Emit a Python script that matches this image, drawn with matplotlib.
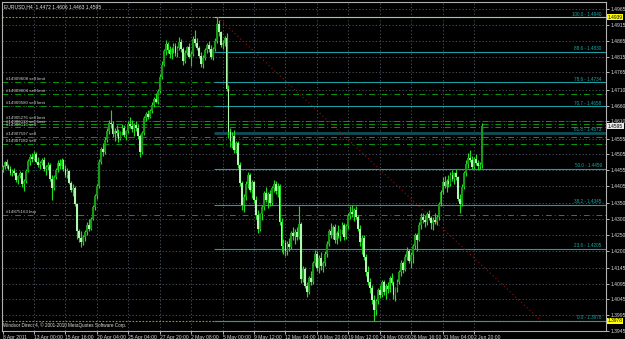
import numpy as np
import matplotlib
matplotlib.use('Agg')
import matplotlib.pyplot as plt
import matplotlib.transforms as mtransforms

plt.rcParams['font.family'] = ['Liberation Sans', 'DejaVu Sans']

# EURUSD H4, prices in pips (4472 -> 1.4472), one entry per bar
opens = [4455, 4466, 4480, 4468, 4460, 4447, 4452, 4445, 4424, 4436, 4446, 4410,
         4420, 4452, 4484, 4498, 4490, 4505, 4482, 4470, 4478,
         4488, 4458, 4465, 4472, 4428, 4398, 4432, 4455, 4478,
         4468, 4486, 4458, 4440, 4452, 4415, 4392, 4400, 4348,
         4262, 4240, 4226, 4242, 4258, 4282, 4270, 4300, 4338, 4372,
         4405, 4482, 4522, 4512, 4552, 4580, 4605, 4600,
         4570, 4580, 4572, 4555, 4575, 4590, 4566, 4578, 4602, 4596,
         4585, 4598, 4588, 4562, 4512, 4572, 4620, 4632, 4624,
         4642, 4662, 4680, 4672, 4705, 4752, 4790, 4832, 4855, 4835,
         4822, 4838, 4850, 4826, 4842, 4862, 4838, 4802, 4828, 4845, 4815, 4822,
         4870, 4858, 4842, 4818, 4792, 4812, 4835, 4852, 4838, 4815, 4840,
         4866, 4918, 4892, 4852, 4860, 4875,
         4712, 4575, 4548, 4565, 4520, 4540, 4470, 4415, 4345,
         4370, 4412, 4440, 4392, 4418, 4360, 4312, 4268, 4315,
         4338, 4382, 4362, 4378, 4350, 4398, 4412, 4390, 4405, 4292,
         4215, 4225, 4198, 4222, 4210, 4255, 4245, 4260, 4242, 4285,
         4110, 4142, 4088, 4070, 4112, 4100, 4160, 4190, 4145,
         4178, 4150, 4160, 4188, 4222, 4262, 4250, 4275,
         4235, 4255, 4246, 4265, 4282, 4242, 4278, 4310, 4322, 4315, 4330,
         4308, 4270, 4228, 4240, 4180, 4132, 4100, 4080, 4042, 4012,
         4040, 4075, 4058, 4100, 4070, 4088, 4078, 4112, 4098, 4058, 4080,
         4102, 4132, 4162, 4140, 4180, 4200, 4168, 4186, 4215, 4248,
         4235, 4282, 4305, 4296, 4290, 4315, 4302, 4288, 4298, 4292,
         4305, 4348, 4385, 4418, 4405, 4420, 4412, 4440, 4428, 4445,
         4432, 4365, 4348, 4402, 4445, 4476, 4495, 4488, 4466, 4490, 4478, 4468,
         4472]
highs = [4472, 4485, 4490, 4476, 4468, 4458, 4462, 4450, 4440, 4452, 4450, 4428,
         4458, 4490, 4505, 4508, 4515, 4512, 4496, 4485, 4494,
         4496, 4470, 4480, 4478, 4440, 4440, 4462, 4486, 4492,
         4495, 4490, 4470, 4462, 4455, 4422, 4410, 4404, 4352,
         4270, 4262, 4250, 4266, 4290, 4300, 4308, 4345, 4380, 4412,
         4490, 4530, 4540, 4560, 4590, 4615, 4646, 4612,
         4588, 4598, 4585, 4580, 4600, 4598, 4582, 4610, 4624, 4615,
         4605, 4612, 4600, 4570, 4580, 4628, 4640, 4645, 4648,
         4670, 4688, 4700, 4712, 4760, 4800, 4840, 4868, 4862, 4850,
         4845, 4860, 4858, 4848, 4878, 4870, 4845, 4835, 4850, 4858, 4832, 4880,
         4900, 4875, 4850, 4830, 4820, 4842, 4860, 4866, 4852, 4845, 4875,
         4940, 4932, 4898, 4868, 4882, 4890,
         4725, 4590, 4575, 4582, 4548, 4548, 4482, 4420, 4380,
         4420, 4448, 4445, 4425, 4420, 4372, 4330, 4320, 4345,
         4390, 4402, 4385, 4392, 4405, 4425, 4420, 4415, 4410, 4302,
         4238, 4235, 4230, 4240, 4262, 4276, 4268, 4275, 4340, 4292,
         4150, 4148, 4102, 4120, 4135, 4168, 4202, 4198, 4185,
         4195, 4168, 4200, 4230, 4270, 4288, 4282, 4285,
         4262, 4280, 4270, 4290, 4288, 4285, 4318, 4340, 4345, 4335, 4342,
         4312, 4282, 4250, 4248, 4188, 4150, 4112, 4090, 4060, 4048,
         4082, 4090, 4108, 4106, 4095, 4100, 4120, 4130, 4105, 4085, 4110,
         4140, 4170, 4168, 4188, 4212, 4206, 4195, 4222, 4256, 4255,
         4290, 4318, 4320, 4312, 4322, 4330, 4310, 4306, 4318, 4312,
         4355, 4392, 4432, 4436, 4428, 4440, 4450, 4456, 4448, 4458,
         4438, 4380, 4410, 4452, 4488, 4510, 4520, 4500, 4498, 4505, 4486, 4480,
         4606]
lows = [4448, 4460, 4462, 4455, 4440, 4436, 4441, 4418, 4412, 4430, 4402, 4390,
        4415, 4448, 4470, 4482, 4486, 4478, 4465, 4458, 4470,
        4452, 4440, 4455, 4420, 4362, 4392, 4426, 4450, 4460,
        4460, 4452, 4432, 4430, 4410, 4385, 4372, 4340, 4236,
        4228, 4212, 4218, 4230, 4250, 4262, 4265, 4296, 4330, 4365,
        4400, 4476, 4500, 4505, 4545, 4570, 4590, 4560,
        4548, 4565, 4545, 4550, 4568, 4560, 4550, 4572, 4590, 4575,
        4565, 4580, 4555, 4498, 4505, 4568, 4612, 4618, 4620,
        4636, 4655, 4668, 4665, 4700, 4745, 4785, 4820, 4826, 4810,
        4808, 4828, 4818, 4815, 4836, 4830, 4790, 4796, 4820, 4810, 4785, 4818,
        4848, 4835, 4810, 4782, 4778, 4805, 4828, 4830, 4808, 4806, 4832,
        4860, 4880, 4845, 4838, 4848, 4705,
        4558, 4530, 4525, 4510, 4508, 4462, 4405, 4330, 4322,
        4362, 4398, 4385, 4368, 4350, 4300, 4255, 4262, 4296,
        4330, 4355, 4335, 4340, 4345, 4385, 4380, 4370, 4280, 4196,
        4190, 4182, 4185, 4200, 4205, 4235, 4222, 4235, 4238, 4098,
        4100, 4080, 4054, 4062, 4092, 4095, 4150, 4135, 4130,
        4140, 4132, 4150, 4180, 4215, 4240, 4238, 4225,
        4220, 4240, 4230, 4252, 4235, 4236, 4270, 4300, 4305, 4295, 4300,
        4262, 4215, 4190, 4170, 4120, 4090, 4066, 4030, 3978, 3995,
        4030, 4050, 4052, 4060, 4045, 4065, 4070, 4090, 4046, 4040, 4070,
        4095, 4120, 4130, 4136, 4170, 4160, 4145, 4160, 4205, 4200,
        4230, 4270, 4286, 4275, 4282, 4296, 4270, 4266, 4285, 4280,
        4298, 4340, 4378, 4398, 4386, 4402, 4405, 4420, 4410, 4425,
        4358, 4320, 4340, 4395, 4438, 4462, 4480, 4458, 4460, 4470, 4455, 4460,
        4463]
closes = [4466, 4480, 4468, 4460, 4447, 4452, 4445, 4424, 4436, 4446, 4410, 4420,
          4452, 4484, 4498, 4490, 4505, 4482, 4470, 4478, 4488,
          4458, 4465, 4472, 4428, 4398, 4432, 4455, 4478, 4468,
          4486, 4458, 4440, 4452, 4415, 4392, 4400, 4348, 4262,
          4240, 4226, 4242, 4258, 4282, 4270, 4300, 4338, 4372, 4405,
          4482, 4522, 4512, 4552, 4580, 4605, 4600, 4570,
          4580, 4572, 4555, 4575, 4590, 4566, 4578, 4602, 4596, 4585,
          4598, 4588, 4562, 4512, 4572, 4620, 4632, 4624, 4642,
          4662, 4680, 4672, 4705, 4752, 4790, 4832, 4855, 4835, 4822,
          4838, 4850, 4826, 4842, 4862, 4838, 4802, 4828, 4845, 4815, 4822, 4870,
          4858, 4842, 4818, 4792, 4812, 4835, 4852, 4838, 4815, 4840, 4866,
          4918, 4892, 4852, 4860, 4875, 4712,
          4575, 4548, 4565, 4520, 4540, 4470, 4415, 4345, 4370,
          4412, 4440, 4392, 4418, 4360, 4312, 4268, 4315, 4338,
          4382, 4362, 4378, 4350, 4398, 4412, 4390, 4405, 4292, 4215,
          4225, 4198, 4222, 4210, 4255, 4245, 4260, 4242, 4285, 4110,
          4142, 4088, 4070, 4112, 4100, 4160, 4190, 4145, 4178,
          4150, 4160, 4188, 4222, 4262, 4250, 4275, 4235,
          4255, 4246, 4265, 4282, 4242, 4278, 4310, 4322, 4315, 4330, 4308,
          4270, 4228, 4240, 4180, 4132, 4100, 4080, 4042, 4012, 4040,
          4075, 4058, 4100, 4070, 4088, 4078, 4112, 4098, 4058, 4080, 4102,
          4132, 4162, 4140, 4180, 4200, 4168, 4186, 4215, 4248, 4235,
          4282, 4305, 4296, 4290, 4315, 4302, 4288, 4298, 4292, 4305,
          4348, 4385, 4418, 4405, 4420, 4412, 4440, 4428, 4445, 4432,
          4365, 4348, 4402, 4445, 4476, 4495, 4488, 4466, 4490, 4478, 4468, 4472,
          4595]

time_tick_bars = [0, 16, 32, 48, 64, 80, 96, 112, 128, 144, 160, 176, 192, 208, 224, 240]
time_tick_labels = ['8 Apr 2011', '13 Apr 00:00', '15 Apr 16:00', '20 Apr 04:00',
                    '25 Apr 04:00', '27 Apr 20:00', '2 May 08:00', '5 May 00:00',
                    '9 May 12:00', '12 May 04:00', '16 May 20:00', '19 May 12:00',
                    '24 May 00:00', '26 May 16:00', '31 May 04:00', '2 Jun 20:00']
price_ticks = [1.4965, 1.4915, 1.4865, 1.4815, 1.4765, 1.4710, 1.4660, 1.4610,
               1.4555, 1.4505, 1.4455, 1.4405, 1.4350, 1.4300, 1.4250, 1.4200,
               1.4145, 1.4095, 1.4045, 1.3995, 1.3945]

fib_ratios = ['100.0', '88.6', '78.6', '70.7', '61.8', '50.0', '38.2', '23.6', '0.0']
fib_prices = [1.4940, 1.4830, 1.4734, 1.4658, 1.4573, 1.4459, 1.4345, 1.4205, 1.3978]
fib_start_bar = 107.5
trend_bars = [109.5, 274]
trend_prices = [1.4940, 1.3978]

order_labels = ['#14909608 sell limit', '#14909604 sell limit', '#14909580 sell limit',
                '#14905276 sell limit', '#14906118 sell limit', '#14906116 sell',
                '#14907597 sell', '#14907182 sell', '#14875163 buy']
order_prices = [1.4735, 1.4697, 1.4659, 1.4612, 1.4602, 1.4593, 1.4561, 1.4539, 1.4314]

hline_prices = [1.4940, 1.3978]
hline_labels = ['1.4939', '1.3978']
last_price = 1.4595

to_price = lambda v: 1 + np.array(v) / 10000.0
o, h, l, c = to_price(opens), to_price(highs), to_price(lows), to_price(closes)
x = np.arange(len(o))

fig = plt.figure(figsize=(6.25, 3.39), dpi=100, facecolor='black')
ax = fig.add_axes([2 / 625, 8 / 339, 604 / 625, 329 / 339])
ax.set_facecolor('black')
ax.set_xlim(-0.3, 307.2)
ax.set_ylim(1.39463, 1.49885)

grid_col = '#525c66'
for p in price_ticks:
    ax.axhline(p, color=grid_col, lw=0.6, ls=(0, (1.5, 2.5)), zorder=1)
for b in time_tick_bars[1:]:
    ax.axvline(b, color=grid_col, lw=0.6, ls=(0, (1.5, 2.5)), zorder=1)

# yellow horizontal lines
for p in hline_prices:
    ax.axhline(p, color='#a89a00', lw=0.8, ls=(0, (1.5, 1.5)), zorder=2)

# order lines (labels stacked like the terminal does)
for i, (p, lab) in enumerate(zip(order_prices, order_labels)):
    ax.axhline(p, color='#0a9a0a', lw=0.7, ls=(0, (6, 3, 1, 3)), zorder=2)
    dy = 0.0003
    if lab.startswith('#14906118'):
        dy = 0.0001
    if lab.startswith('#14906116'):
        dy = -0.0001
    ax.text(1.5, p + dy, lab, color='#d0d0d0', fontsize=3.2, va='bottom', ha='left', zorder=6)

# fib retracement
for r, p in zip(fib_ratios, fib_prices):
    col = '#1aa0a4'
    lw = 0.8
    if r == '100.0':
        col = '#7fd0d4'
    if r == '61.8':
        col = '#0d5056'
        lw = 2.0
    ax.hlines(p, fib_start_bar, 307.2, color=col, lw=lw, zorder=3)
    ax.text(305, p + 0.0002, '%s - %.4f' % (r, p), color='#1aa8a8', fontsize=3.3,
            ha='right', va='bottom', zorder=6)
ax.plot(trend_bars, trend_prices, color='#a01010', lw=0.8, ls=(0, (1, 2.5)), zorder=3)

# candles
up = c >= o
ax.vlines(x, l, h, color='#22dc22', lw=0.85, zorder=4)
bottoms = np.minimum(o, c)
heights = np.maximum(np.abs(c - o), 0.00012)
ax.bar(x[up], heights[up], bottom=bottoms[up], width=0.9, color='#169a16', zorder=5)
ax.bar(x[~up], heights[~up], bottom=bottoms[~up], width=0.9, color='#b0f8b0', zorder=5)

for s in ax.spines.values():
    s.set_color('#b0b0b0')
    s.set_linewidth(0.8)
ax.yaxis.tick_right()
ax.set_yticks(price_ticks)
ax.set_yticklabels(['%.4f' % p for p in price_ticks])
ax.set_xticks(time_tick_bars)
ax.set_xticklabels(time_tick_labels, ha='left')
ax.tick_params(axis='both', colors='#d8d8d8', labelsize=3.6, length=2, width=0.6, pad=1)

trans = mtransforms.blended_transform_factory(ax.transAxes, ax.transData)
for p, lab in zip(hline_prices, hline_labels):
    ax.text(1.003, p, lab, transform=trans, fontsize=3.5, color='black', va='center', ha='left',
            bbox=dict(boxstyle='square,pad=0.12', fc='#ffff00', ec='none'), zorder=10, clip_on=False)
ax.text(1.003, last_price, '%.4f' % last_price, transform=trans, fontsize=3.5, color='black',
        va='center', ha='left', bbox=dict(boxstyle='square,pad=0.12', fc='#e8e8e8', ec='none'),
        zorder=10, clip_on=False)

ax.text(0.004, 0.993, 'EURUSD,H4  1.4472 1.4606 1.4463 1.4595', transform=ax.transAxes,
        color='#e0e0e0', fontsize=3.6, va='top', ha='left', zorder=10)
ax.text(0.002, 0.008, 'Windsor Direct 4, \u00a9 2001-2010 MetaQuotes Software Corp.',
        transform=ax.transAxes, color='#e0e0e0', fontsize=3.3, va='bottom', ha='left', zorder=10)

fig.savefig('out.png', dpi=100, facecolor='black')
